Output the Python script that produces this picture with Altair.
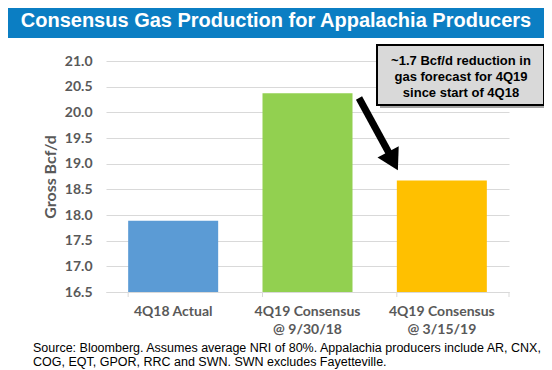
import altair as alt
import pandas as pd

# ---- data ----
categories = ["4Q18 Actual", "4Q19 Consensus\n@ 9/30/18", "4Q19 Consensus\n@ 3/15/19"]
values = [17.89, 20.37, 18.67]
bar_colors = ["#5B9BD5", "#92D050", "#FFC000"]
y_ticks = [16.5, 17.0, 17.5, 18.0, 18.5, 19.0, 19.5, 20.0, 20.5, 21.0]
y_domain = [16.5, 21.0]
title_text = "Consensus Gas Production for Appalachia Producers"
y_title = "Gross Bcf/d"
callout_lines = ["~1.7 Bcf/d reduction in", "gas forecast for 4Q19", "since start of 4Q18"]
footnote_lines = [
    "Source: Bloomberg. Assumes average NRI of 80%. Appalachia producers include AR, CNX,",
    "COG, EQT, GPOR, RRC and SWN. SWN excludes Fayetteville.",
]

W, H = 403, 231
GRAY = "#595959"
GRID = "#D9D9D9"

df = pd.DataFrame({"cat": categories, "value": values})
one_title = pd.DataFrame({"t": [title_text]})
one_callout = pd.DataFrame({"t": ["\n".join(callout_lines)]})
one_foot = pd.DataFrame({"t": ["\n".join(footnote_lines)]})
one = pd.DataFrame({"k": [0]})

xenc = alt.X(
    "cat:N",
    sort=categories,
    scale=alt.Scale(paddingInner=0.33, paddingOuter=0.165),
    axis=alt.Axis(
        title=None,
        labelAngle=0,
        labelExpr="split(datum.label, '\\n')",
        labelFont="Lato",
        labelFontWeight="bold",
        labelFontSize=14,
        labelColor=GRAY,
        labelLineHeight=18,
        labelBaseline="top",
        labelPadding=12,
        ticks=False,
        domainColor=GRID,
        grid=False,
    ),
)

bars = alt.Chart(df).mark_bar().encode(
    x=xenc,
    y=alt.Y(
        "value:Q",
        scale=alt.Scale(domain=y_domain, zero=False, nice=False),
        axis=alt.Axis(
            values=y_ticks,
            format=".1f",
            title=y_title,
            titleFont="Lato",
            titleFontWeight="bold",
            titleFontSize=16,
            titleColor=GRAY,
            titlePadding=6,
            labelFont="Lato",
            labelFontWeight="bold",
            labelFontSize=14,
            labelColor=GRAY,
            labelPadding=14,
            domain=False,
            ticks=False,
            gridColor=GRID,
            gridWidth=1,
        ),
    ),
    y2=alt.datum(y_domain[0]),
    color=alt.Color("cat:N", scale=alt.Scale(domain=categories, range=bar_colors), legend=None),
)

cat_ticks = alt.Chart(df).mark_rule(color=GRID).encode(
    x=alt.X("cat:N", sort=categories, bandPosition=0),
    y=alt.value(H),
    y2=alt.value(H + 5),
)
end_tick = alt.Chart(one).mark_rule(color=GRID).encode(
    x=alt.value(W), y=alt.value(H), y2=alt.value(H + 5)
)

band = alt.Chart(one).mark_rect(color="#0B7EC3").encode(
    x=alt.value(-104), x2=alt.value(442), y=alt.value(-59), y2=alt.value(-23)
)
title = alt.Chart(one_title).mark_text(
    font="Liberation Sans", fontWeight="bold", fontSize=20, color="white",
    align="center", baseline="middle",
).encode(x=alt.value(170), y=alt.value(-40), text="t:N")

shadow = alt.Chart(one).mark_rect(color="#A6A6A6").encode(
    x=alt.value(274), x2=alt.value(441), y=alt.value(-13), y2=alt.value(47)
)
box = alt.Chart(one).mark_rect(fill="#D9D9D9", stroke="black", strokeWidth=2).encode(
    x=alt.value(271), x2=alt.value(438), y=alt.value(-16), y2=alt.value(44)
)
callout = alt.Chart(one_callout).mark_text(
    font="Liberation Sans", fontWeight="bold", fontSize=13, color="black",
    align="center", baseline="middle", lineBreak="\n", lineHeight=16,
).encode(x=alt.value(355), y=alt.value(0), text="t:N")

arrow_line = alt.Chart(one).mark_rule(color="black", strokeWidth=7).encode(
    x=alt.value(253), y=alt.value(37), x2=alt.value(283), y2=alt.value(92)
)
arrow_head = alt.Chart(one).mark_point(
    shape="triangle-up", filled=True, color="black", opacity=1, size=576, angle=152,
).encode(x=alt.value(287), y=alt.value(100))

foot = alt.Chart(one_foot).mark_text(
    font="Liberation Sans", fontSize=12.5, color="black",
    align="left", baseline="middle", lineBreak="\n", lineHeight=14,
).encode(x=alt.value(-73), y=alt.value(287), text="t:N")

chart = alt.layer(
    band, title, bars, cat_ticks, end_tick, shadow, box, callout, arrow_line, arrow_head, foot
).properties(
    width=W,
    height=H,
    autosize=alt.AutoSizeParams(type="none"),
    padding={"left": 98, "top": 53, "right": 35, "bottom": 78},
    background="white",
).configure_view(strokeWidth=0)

chart.save("out.html", embed_options={"renderer": "svg", "actions": False})
